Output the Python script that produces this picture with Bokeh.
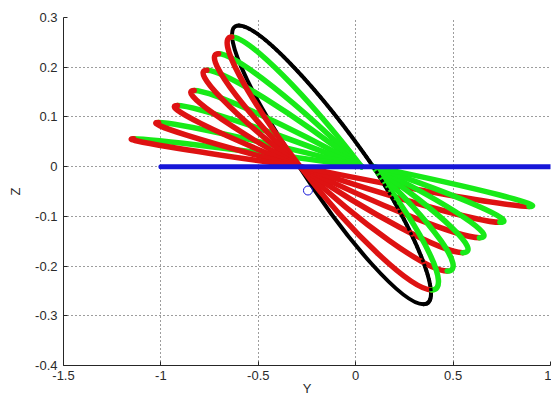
from bokeh.plotting import figure
from bokeh.models import FixedTicker, Range1d
from bokeh.embed import file_html
from bokeh.resources import INLINE

# ---- data ----
x_ticks = [-1.5, -1.0, -0.5, 0.0, 0.5, 1.0]
x_tick_labels = ["-1.5", "-1", "-0.5", "0", "0.5", "1"]
y_ticks = [-0.4, -0.3, -0.2, -0.1, 0.0, 0.1, 0.2, 0.3]
y_tick_labels = ["-0.4", "-0.3", "-0.2", "-0.1", "0", "0.1", "0.2", "0.3"]

# black loop: crossings of Z=0 and the two extreme points
black_cross_y = [-0.29, 0.09]
black_tip_y = [-0.60, 0.348]
black_tip_z = [0.284, -0.277]

# green / red loops: crossings of Z=0
red_cross_y = -0.285
green_cross_upper_y = 0.03   # where the upper-left green edges meet
green_cross_lower_y = 0.09   # where the lower-right green edges start
# upper-left loop tips
upper_tip_y = [-0.636, -0.704, -0.764, -0.829, -0.915, -1.012, -1.14]
upper_tip_z = [0.261, 0.227, 0.194, 0.153, 0.123, 0.089, 0.056]
# lower-right loop tips
lower_tip_y = [0.39, 0.47, 0.55, 0.635, 0.74, 0.89]
lower_tip_z = [-0.248, -0.21, -0.173, -0.143, -0.112, -0.08]

# blue reference line and marker
blue_y = [-1.0, 1.0]
blue_z = [0.0, 0.0]
marker_y = [-0.245]
marker_z = [-0.048]

GREEN = "#18ea18"
RED = "#de1212"
BLUE = "#1616d8"
K = 0.5523


def quarter(cross_y, mid_y, tip_y, tip_z):
    """Bezier control data for a quarter loop from a crossing to a tip."""
    x0 = [cross_y] * len(tip_y)
    y0 = [0.0] * len(tip_y)
    cx0 = [cross_y + K * (ty - mid_y) for ty in tip_y]
    cy0 = [K * tz for tz in tip_z]
    cx1 = [ty + K * (cross_y - mid_y) for ty in tip_y]
    cy1 = list(tip_z)
    return dict(x0=x0, y0=y0, x1=list(tip_y), y1=list(tip_z),
                cx0=cx0, cy0=cy0, cx1=cx1, cy1=cy1)


p = figure(width=551, height=398, title=None,
           x_range=Range1d(-1.5, 1.0), y_range=Range1d(-0.4, 0.3),
           output_backend="svg", toolbar_location=None,
           min_border_left=63, min_border_top=17, min_border_right=1,
           min_border_bottom=0)
p.outline_line_color = None
p.background_fill_color = "white"
p.border_fill_color = "white"

up_mid = (red_cross_y + green_cross_upper_y) / 2.0
lo_mid = (red_cross_y + green_cross_lower_y) / 2.0
bmid = (black_cross_y[0] + black_cross_y[1]) / 2.0

# black loop underneath
for cy in black_cross_y:
    p.bezier(**quarter(cy, bmid, black_tip_y, black_tip_z),
             line_color="black", line_width=4, line_cap="round")
# red lower-right halves first, so green wraps the lower tips
p.bezier(**quarter(red_cross_y, lo_mid, lower_tip_y, lower_tip_z),
         line_color=RED, line_width=5.5, line_cap="round")
# green halves
p.bezier(**quarter(green_cross_lower_y, lo_mid, lower_tip_y, lower_tip_z),
         line_color=GREEN, line_width=5.5, line_cap="round")
p.bezier(**quarter(green_cross_upper_y, up_mid, upper_tip_y, upper_tip_z),
         line_color=GREEN, line_width=5.5, line_cap="round")
# sparse black dots of the right side, seen over the green
p.bezier(**quarter(black_cross_y[1], bmid, black_tip_y, black_tip_z),
         line_color="black", line_width=3.5, line_dash="3 2")
# red upper-left halves
p.bezier(**quarter(red_cross_y, up_mid, upper_tip_y, upper_tip_z),
         line_color=RED, line_width=5.5, line_cap="round")

# blue line and marker
p.line(blue_y, blue_z, line_color=BLUE, line_width=5, line_cap="round")
p.scatter(marker_y, marker_z, marker="circle", size=9, fill_color=None,
          line_color=BLUE, line_width=1)

# axes
for ax, ticks, labels in ((p.xaxis, x_ticks, x_tick_labels),
                          (p.yaxis, y_ticks, y_tick_labels)):
    ax.ticker = FixedTicker(ticks=ticks)
    ax.major_label_overrides = dict(zip(ticks, labels))
    ax.major_tick_in = 4
    ax.major_tick_out = 0
    ax.minor_tick_line_color = None
    ax.axis_line_color = "#262626"
    ax.major_tick_line_color = "#262626"
    ax.major_label_text_font = "Liberation Sans"
    ax.major_label_text_font_size = "13px"
    ax.major_label_text_color = "#2a2a2a"
    ax.axis_label_text_font = "Liberation Sans"
    ax.axis_label_text_font_size = "13px"
    ax.axis_label_text_font_style = "normal"
    ax.axis_label_text_color = "#2a2a2a"

p.xaxis.axis_label = "Y"
p.yaxis.axis_label = "Z"
p.xaxis.major_label_standoff = 5
p.xaxis.axis_label_standoff = -2
p.yaxis.major_label_standoff = 6
p.yaxis.axis_label_standoff = 9

for g in (p.xgrid, p.ygrid):
    g.grid_line_color = "#3a3a3a"
    g.grid_line_dash = "1 3"
    g.grid_line_width = 1

open("out.html", "w").write(file_html(p, INLINE))
